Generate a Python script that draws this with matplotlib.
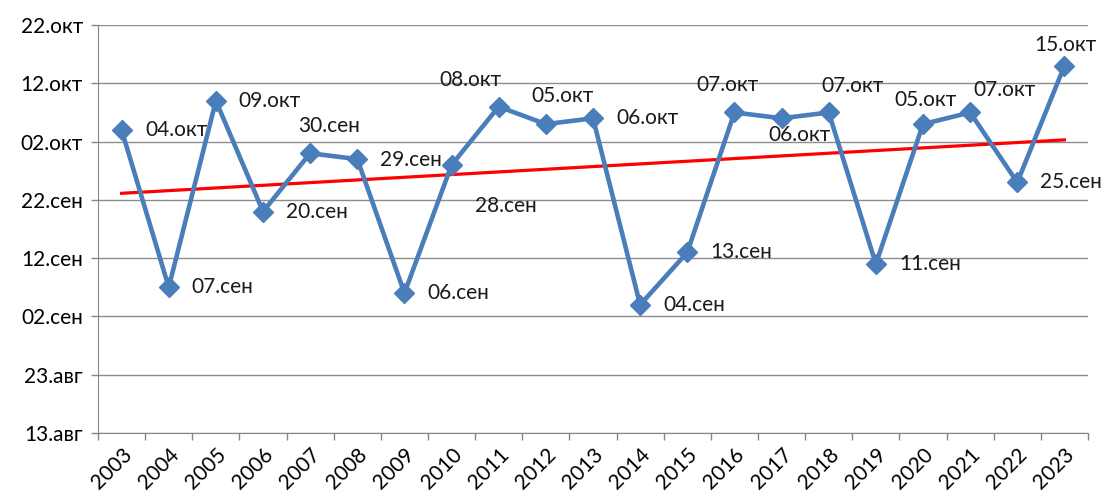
import numpy as np
import matplotlib.pyplot as plt

plt.rcParams['font.family'] = ['Lato', 'DejaVu Sans']

# Дата наступления явления по годам
years = [2003, 2004, 2005, 2006, 2007, 2008, 2009, 2010, 2011, 2012, 2013,
         2014, 2015, 2016, 2017, 2018, 2019, 2020, 2021, 2022, 2023]
dates = ['04.окт', '07.сен', '09.окт', '20.сен', '30.сен', '29.сен', '06.сен',
         '28.сен', '08.окт', '05.окт', '06.окт', '04.сен', '13.сен', '07.окт',
         '06.окт', '07.окт', '11.сен', '05.окт', '07.окт', '25.сен', '15.окт']

# Подписи оси Y (шаг 10 дней)
ytick_labels = ['13.авг', '23.авг', '02.сен', '12.сен', '22.сен',
                '02.окт', '12.окт', '22.окт']

# смещения подписей точек (в пикселях)
label_dx = [55, 54, 54, 54, 19, 54, 54, 54, -28, 17, 54,
            54, 54, -7, 18, 24, 54, 3, 34, 54, 1]
label_dy = [0, 0, 0, 0, 27, -1, 0, -41, 27, 28, 0,
            0, 0, 27, -17, 26, 0, 24, 22, 0, 21]

# день от начала августа
month_start = {'авг': 0, 'сен': 31, 'окт': 61}


def to_day(s):
    d, m = s.split('.')
    return month_start[m] + int(d)


y = np.array([to_day(s) for s in dates])
yticks = np.array([to_day(s) for s in ytick_labels])
x = np.arange(len(years))

fig = plt.figure(figsize=(11.04, 5.01), dpi=100)
ax = fig.add_axes([0.0888, 0.1357, 0.8967, 0.8143])

# линейный тренд
p = np.polyfit(x, y, 1)
ax.plot(x, np.polyval(p, x), color='#ff0000', lw=2.3, zorder=2)

ax.plot(x, y, color='#4a7ebb', lw=3.3, marker='D', ms=10,
        markerfacecolor='#4a7ebb', markeredgecolor='#4a7ebb', zorder=3)

fs = 15
for xi, yi, s, dx, dy in zip(x, y, dates, label_dx, label_dy):
    ax.annotate(s, (xi, yi), xytext=(dx * 0.72, dy * 0.72), textcoords='offset points',
                ha='center', va='center', fontsize=fs, color='#1a1a1a', zorder=4)

ax.set_xlim(-0.5, len(years) - 0.5)
ax.set_ylim(yticks[0], yticks[-1])
ax.set_yticks(yticks)
ax.set_yticklabels(ytick_labels)
ax.yaxis.grid(True, color='#8c8c8c', lw=1)
ax.set_axisbelow(True)

ax.set_xticks(x)
ax.set_xticklabels([str(v) for v in years], rotation=45, ha='right',
                   rotation_mode='anchor')
ax.set_xticks(np.arange(-0.5, len(years), 1), minor=True)
ax.tick_params(axis='x', which='major', length=0, labelsize=fs, pad=8)
ax.tick_params(axis='x', which='minor', length=5, color='#868686', width=1)
ax.tick_params(axis='y', length=5, color='#868686', width=1, labelsize=fs, pad=6)

for side in ['top', 'right']:
    ax.spines[side].set_visible(False)
for side in ['left', 'bottom']:
    ax.spines[side].set_color('#868686')

fig.savefig('out.png', dpi=100)
